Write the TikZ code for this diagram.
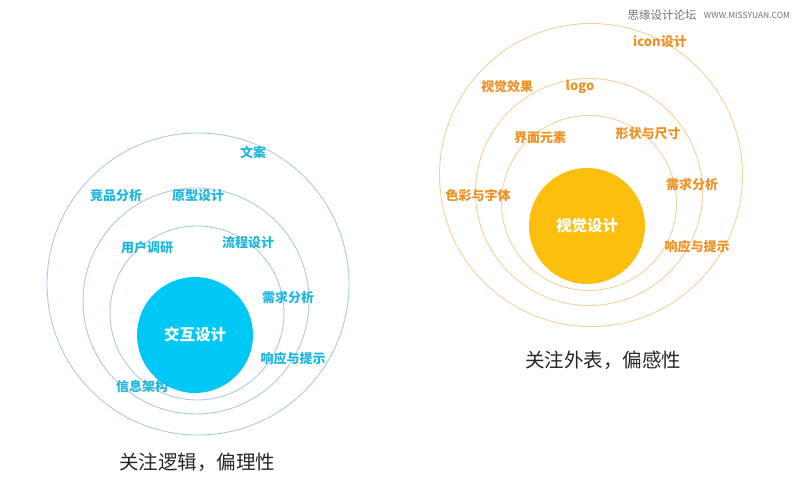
\documentclass[tikz,border=0pt]{standalone}
\usepackage{fontspec}
\setmainfont{Noto Sans CJK SC}
\usetikzlibrary{positioning}

\definecolor{ixfill}{HTML}{00C8F4}
\definecolor{ixtext}{HTML}{1FB6DE}
\definecolor{ixring}{HTML}{AACBE0}
\definecolor{vdfill}{HTML}{FDBF0E}
\definecolor{vdtext}{HTML}{EE9226}
\definecolor{vdring}{HTML}{F4D09E}

\begin{document}
\begin{tikzpicture}[
  x=1pt, y=-1pt,
  ring/.style={circle, draw=#1, line width=0.9pt, inner sep=0pt},
  core/.style={circle, fill=#1, inner sep=0pt, minimum size=116pt,
               text=white, font=\fontsize{15.5}{16}\selectfont\bfseries},
  lab/.style={text=#1, inner sep=1pt, font=\fontsize{13}{14}\selectfont\bfseries},
  caption/.style={text=black!85, font=\fontsize{19.5}{20}\selectfont},
  wmtext/.style={text=black!55, inner sep=0pt},
]
\useasboundingbox (0,0) rectangle (800,500);
% --- interaction design (left) ---
\node[ring=ixring, minimum size=302pt] (ixouter) at (198,284) {};
\node[ring=ixring, minimum size=226pt] (ixmid) at (196,301) {};
\node[ring=ixring, minimum size=174pt] (ixinner) at (197,313) {};
\node[core=ixfill] (ixcore) at (195,335) {交互设计};
\node[lab=ixtext] (ixcopy) at (253,152) {文案};
\node[lab=ixtext] (ixcomp) at (116,196) {竞品分析};
\node[lab=ixtext] (ixproto) at (198,196) {原型设计};
\node[lab=ixtext] (ixuser) at (147,248) {用户调研};
\node[lab=ixtext] (ixflow) at (248,243) {流程设计};
\node[lab=ixtext] (ixneed) at (288,298) {需求分析};
\node[lab=ixtext] (ixresp) at (293,359) {响应与提示};
\node[lab=ixtext] (ixinfo) at (142,387) {信息架构};
\node[caption] (ixcap) at (197,462) {关注逻辑，偏理性};
% --- visual design (right) ---
\node[ring=vdring, minimum size=303pt] (vdouter) at (591,175) {};
\node[ring=vdring, minimum size=227pt] (vdmid) at (589,192) {};
\node[ring=vdring, minimum size=175pt] (vdinner) at (589,203) {};
\node[core=vdfill] (vdcore) at (587,226) {视觉设计};
\node[lab=vdtext] (vdicon) at (660,42) {icon设计};
\node[lab=vdtext] (vdeffect) at (507,87) {视觉效果};
\node[lab=vdtext] (vdlogo) at (580,87) {logo};
\node[lab=vdtext] (vdui) at (540,138) {界面元素};
\node[lab=vdtext] (vdshape) at (648,134) {形状与尺寸};
\node[lab=vdtext] (vdneed) at (692,185) {需求分析};
\node[lab=vdtext] (vdcolor) at (478,195) {色彩与字体};
\node[lab=vdtext] (vdresp) at (697,247) {响应与提示};
\node[caption] (vdcap) at (603,360) {关注外表，偏感性};
% --- watermark ---
\node[wmtext, font=\fontsize{11.5}{12}\selectfont] (wmname) at (662,15) {思缘设计论坛};
\node[wmtext, font=\fontsize{8.5}{9}\selectfont, right=7pt of wmname] (wmsite) {WWW.MISSYUAN.COM};
\end{tikzpicture}
\end{document}
